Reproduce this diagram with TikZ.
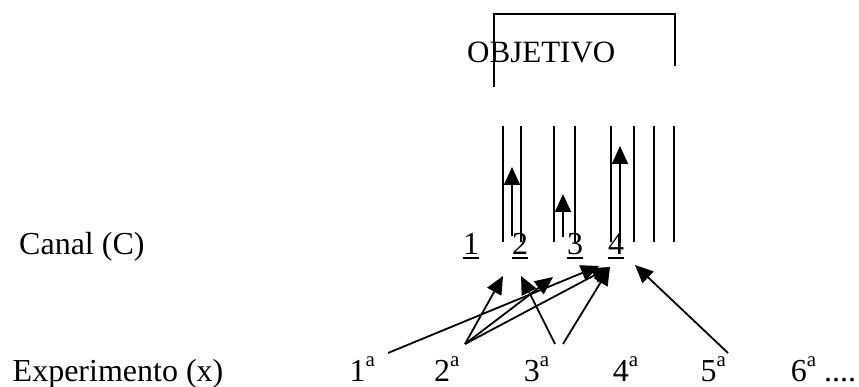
\documentclass[tikz,border=0pt]{standalone}
\usepackage{fontspec}
\setmainfont{Liberation Serif}
\usetikzlibrary{arrows.meta,calc}
\newcommand\expsup{{\fontsize{21}{21}\selectfont\raisebox{15pt}{a}}}
\begin{document}
\begin{tikzpicture}[x=1pt,y=-1pt,
  lbl/.style={inner sep=0pt, anchor=base west, font=\fontsize{32}{38}\selectfont},
  ln/.style={line width=1.8pt},
  arr/.style={line width=1.8pt, -{Triangle[length=18pt,width=16pt]}},
]
\useasboundingbox (0,0) rectangle (859,387);
% title and bracket
\node[lbl, font=\fontsize{31}{36}\selectfont] (obj) at (467,63) {OBJETIVO};
\draw[ln] (494,87) -- (494,14) -- (675,14) -- (675,66);
% row labels
\node[lbl] (canal) at (19,255) {Canal (C)};
\node[lbl] (expe) at (12.5,381) {Experimento (x)};
% channel numbers
\node[lbl] (c1) at (463,255) {1};
\node[lbl] (c2) at (512,255) {2};
\node[lbl] (c3) at (567,255) {3};
\node[lbl] (c4) at (608,255) {4};
\foreach \c in {c1,c2,c3,c4}
  \draw[line width=1.6pt] ([yshift=-3pt]\c.base west) -- ([yshift=-3pt]\c.base east);
% channel walls
\foreach \x in {503,521,554,575,611,634,654,674}
  \draw[ln] (\x,126) -- (\x,242);
% arrows inside channels
\coordinate (a1s) at (512,236); \coordinate (a1t) at (512,167);
\coordinate (a2s) at (563,237); \coordinate (a2t) at (563,194);
\coordinate (a3s) at (620,243); \coordinate (a3t) at (620,146);
\draw[arr] (a1s) -- (a1t);
\draw[arr] (a2s) -- (a2t);
\draw[arr] (a3s) -- (a3t);
% experiments
\node[lbl] (e1) at (349.5,381) {1\expsup};
\node[lbl] (e2) at (434,381) {2\expsup};
\node[lbl] (e3) at (523.6,381) {3\expsup};
\node[lbl] (e4) at (612.6,381) {4\expsup};
\node[lbl] (e5) at (700.4,381) {5\expsup};
\node[lbl] (e6) at (790.7,381) {6\expsup{} ....};
% start points of connectors
\coordinate (s1) at (388,353);
\coordinate (s2) at (465,344);
\coordinate (s3a) at (555,344);
\coordinate (s3b) at (563,344);
\coordinate (s5) at (728,353);
% tips of connectors
\coordinate (t12) at (503,276);
\coordinate (t21) at (521,276);
\coordinate (t23) at (553,277);
\coordinate (t4a) at (599,266);
\coordinate (t4b) at (610,267);
\coordinate (t5) at (635,265);
\draw[arr] (s1) -- (t4a);
\draw[arr] (s2) -- (t12);
\draw[arr] (s2) -- (t23);
\draw[arr] (s2) -- (t4b);
\draw[arr] (s3a) -- (t21);
\draw[arr] (s3b) -- (t4b);
\draw[arr] (s5) -- (t5);
\end{tikzpicture}
\end{document}
